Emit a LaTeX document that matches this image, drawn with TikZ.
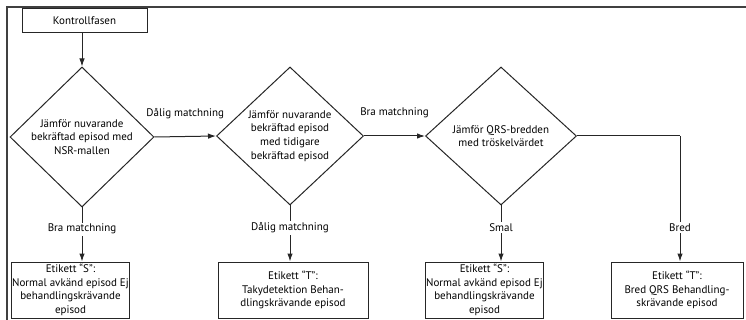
\documentclass[tikz,border=0pt]{standalone}
\usepackage{fontspec}
\setmainfont{PT Sans}
\usepackage{tikz}
\usetikzlibrary{shapes.geometric,arrows.meta,positioning}

\begin{document}
\begin{tikzpicture}[
    x=1pt, y=-1pt,
    every node/.style={font=\fontsize{11}{13.6}\selectfont},
    line/.style={draw=black!85, line width=1pt},
    arrow/.style={line, -{Latex[length=8pt,width=5.5pt]}},
    startbox/.style={rectangle, draw=black!85, line width=1pt, minimum width=125pt, minimum height=24pt, inner sep=0pt},
    test/.style={diamond, draw=black!85, line width=1pt, align=center, inner sep=-2pt},
    label/.style={rectangle, draw=black!85, line width=1pt, align=center, minimum height=56pt, inner sep=1pt},
    tag/.style={fill=white, inner sep=1.5pt}
]
\useasboundingbox (0,0) rectangle (746,320);

% Frame
\coordinate (framebl) at (7,320);
\coordinate (frametr) at (746,7);
\draw[draw=black!75, line width=1.4pt] (framebl) |- (frametr);

% Top level
\node[startbox] (start) at (84.5,21) {Kontrollfasen};

% Tests
\node[test, minimum width=144pt, minimum height=140pt] (nsr) at (82,137) {Jämför nuvarande\\bekräftad episod med\\NSR-mallen};
\node[test, minimum width=147pt, minimum height=138pt] (prev) at (290,136) {Jämför nuvarande\\bekräftad episod\\med tidigare\\bekräftad episod};
\node[test, minimum width=151pt, minimum height=138pt] (qrs) at (501,136) {Jämför QRS-bredden\\med tröskelvärdet};

% Labels
\node[label, minimum width=113pt] (s1) at (70.5,290) {Etikett “S”:\\Normal avkänd episod Ej\\behandlingskrävande\\episod};
\node[label, minimum width=150pt] (t1) at (293,290) {Etikett “T”:\\Takydetektion Behan-\\dlingskrävande episod};
\node[label, minimum width=105pt] (s2) at (484.5,290) {Etikett “S”:\\Normal avkänd episod Ej\\behandlingskrävande\\episod};
\node[label, minimum width=132pt] (t2) at (677,290) {Etikett “T”:\\Bred QRS Behandling-\\skrävande episod};

% Arrows
\draw[arrow] (nsr.north |- start.south) -- (nsr.north);
\draw[arrow] (nsr.east) -- node[above=14pt] (badone) {Dålig matchning} (prev.west);
\draw[arrow] (prev.east) -- node[above=14pt] (goodone) {Bra matchning} (qrs.west);
\draw[arrow] (nsr.south) -- node[tag, pos=0.4] (goodtwo) {Bra matchning} (nsr.south |- s1.north);
\draw[arrow] (prev.south) -- node[tag, pos=0.4] (badtwo) {Dålig matchning} (prev.south |- t1.north);
\draw[arrow] (qrs.south) -- node[tag, pos=0.4] (narrow) {Smal} (qrs.south |- s2.north);
\coordinate (bend) at (680,136);
\draw[line] (qrs.east) -- (bend);
\draw[arrow] (bend) -- node[tag, pos=0.73] (wide) {Bred} (bend |- t2.north);

\end{tikzpicture}
\end{document}
